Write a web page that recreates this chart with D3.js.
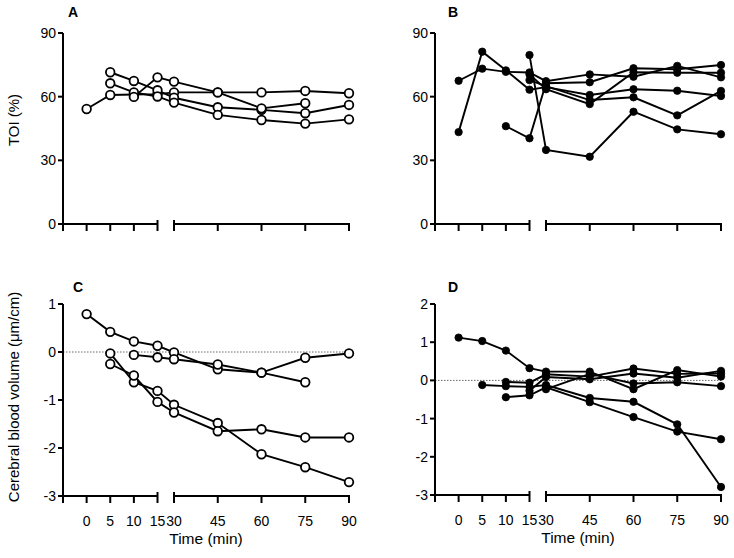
<!DOCTYPE html>
<html><head><meta charset="utf-8">
<script src="https://cdn.jsdelivr.net/npm/d3@7"></script>
<style>body{margin:0;background:#fff}svg{font-family:"Liberation Sans",Arial,sans-serif}</style>
</head><body><svg id="c" width="734" height="558"></svg>
<script>
const times = [0,5,10,15,30,45,60,75,90];
const xTickLabels = ["0","5","10","15","30","45","60","75","90"];
const topTicks = [0,30,60,90];
const cTicks = [-3,-2,-1,0,1];
const dTicks = [-3,-2,-1,0,1,2];

const seriesA = [
  [54.2,60.8,61.0,61.2,62.0,62.0,62.0,62.7,61.6],
  [null,71.5,67.4,63.0,59.5,55.0,53.8,52.2,56.1],
  [null,66.3,62.0,60.1,57.2,51.4,49.0,47.3,49.3],
  [null,null,59.9,69.1,67.1,62.0,54.5,56.9,null]
];
const seriesB = [
  [43.3,81.2,72.4,63.3,64.5,60.8,63.5,62.8,60.3],
  [67.5,73.2,71.7,71.4,67.3,70.5,69.4,74.5,69.1],
  [null,null,46.1,40.4,66.3,66.8,73.4,72.9,74.9],
  [null,null,null,79.6,34.9,31.7,52.9,44.6,42.3],
  [null,null,null,70.5,63.5,56.5,71.5,71.3,71.3],
  [null,null,null,67.8,65.0,58.4,59.7,51.2,62.7]
];
const seriesC = [
  [0.79,0.42,0.22,0.13,-0.01,-0.36,-0.43,-0.63,null],
  [null,null,-0.06,-0.11,-0.15,-0.26,-0.43,-0.12,-0.03],
  [null,-0.03,-0.63,-0.81,-1.10,-1.48,-2.13,-2.40,-2.71],
  [null,-0.25,-0.49,-1.04,-1.26,-1.65,-1.61,-1.78,-1.78]
];
const seriesD = [
  [1.12,1.03,0.78,0.32,0.23,0.23,-0.23,0.27,0.10],
  [null,-0.12,-0.15,-0.17,-0.12,-0.46,-0.56,-1.15,-2.79],
  [null,null,-0.04,-0.06,0.16,0.10,0.31,0.17,0.18],
  [null,null,-0.44,-0.39,-0.18,-0.57,-0.96,-1.34,-1.54],
  [null,null,null,-0.27,0.09,0.03,0.18,0.07,0.25],
  [null,null,null,null,-0.23,0.17,-0.08,-0.05,-0.15]
];

const svg = d3.select("#c");

function panel(o){
  const g = svg.append("g");
  const x = d3.scaleLinear().domain([-5,15,30,90]).range([o.x0, o.x0+94.5, o.x0+111, o.x0+286]);
  const y = d3.scaleLinear().domain(o.ydom).range([o.yb, o.yt]);
  const stroke = "#000";
  if (o.zero) {
    g.append("line").attr("x1", o.x0).attr("x2", x(90)).attr("y1", y(0)).attr("y2", y(0))
      .attr("stroke","#666").attr("stroke-width",1).attr("stroke-dasharray","1.5,1.5");
  }
  g.append("line").attr("x1",o.x0).attr("x2",o.x0).attr("y1",o.yt).attr("y2",o.yb+7).attr("stroke",stroke).attr("stroke-width",2);
  o.yticks.forEach(t=>{
    g.append("line").attr("x1",o.x0-5).attr("x2",o.x0).attr("y1",y(t)).attr("y2",y(t)).attr("stroke",stroke).attr("stroke-width",2);
    g.append("text").attr("x",o.x0-7).attr("y",y(t)).attr("dy","0.36em").attr("text-anchor","end")
      .attr("font-size",14).text(t);
  });
  g.append("line").attr("x1",o.x0-1).attr("x2",x(15)).attr("y1",o.yb).attr("y2",o.yb).attr("stroke",stroke).attr("stroke-width",2);
  g.append("line").attr("x1",x(30)).attr("x2",x(90)+1).attr("y1",o.yb).attr("y2",o.yb).attr("stroke",stroke).attr("stroke-width",2);
  times.forEach((t,i)=>{
    const brk = (t===15||t===30);
    g.append("line").attr("x1",x(t)).attr("x2",x(t)).attr("y1",brk?o.yb-4:o.yb).attr("y2",o.yb+7).attr("stroke",stroke).attr("stroke-width",2);
    if (o.labels) {
      g.append("text").attr("x",x(t)).attr("y",o.yb+30).attr("text-anchor","middle").attr("font-size",14).text(xTickLabels[i]);
    }
  });
  if (o.labels) {
    g.append("text").attr("x",(o.x0+x(90))/2).attr("y",o.yb+48).attr("text-anchor","middle").attr("font-size",15.5).text("Time (min)");
  }
  g.append("text").attr("x",o.lx).attr("y",o.ly).attr("font-size",14).attr("font-weight","bold").text(o.letter);
  const line = d3.line().defined(d=>d.v!=null).x(d=>x(d.t)).y(d=>y(d.v));
  o.series.forEach(s=>{
    const pts = s.map((v,i)=>({t:times[i],v:v}));
    g.append("path").attr("d",line(pts)).attr("fill","none").attr("stroke",stroke).attr("stroke-width",1.9);
  });
  o.series.forEach(s=>{
    const pts = s.map((v,i)=>({t:times[i],v:v})).filter(d=>d.v!=null);
    g.selectAll(null).data(pts).enter().append("circle")
      .attr("cx",d=>x(d.t)).attr("cy",d=>y(d.v))
      .attr("r",o.open?4.3:3.7)
      .attr("fill",o.open?"#fff":"#000")
      .attr("stroke","#000").attr("stroke-width",o.open?1.8:0.8);
  });
}

panel({letter:"A",lx:68,ly:17,x0:63,yt:33,yb:224,ydom:[0,90],yticks:topTicks,series:seriesA,open:true,labels:false,zero:false});
panel({letter:"B",lx:448,ly:17,x0:435,yt:33,yb:224,ydom:[0,90],yticks:topTicks,series:seriesB,open:false,labels:false,zero:false});
panel({letter:"C",lx:73,ly:292,x0:63,yt:304,yb:496,ydom:[-3,1],yticks:cTicks,series:seriesC,open:true,labels:true,zero:true});
panel({letter:"D",lx:448,ly:292,x0:435,yt:304,yb:495,ydom:[-3,2],yticks:dTicks,series:seriesD,open:false,labels:true,zero:true});

svg.append("text").attr("transform","translate(19,120) rotate(-90)").attr("text-anchor","middle").attr("font-size",15).text("TOI (%)");
svg.append("text").attr("transform","translate(19,397) rotate(-90)").attr("text-anchor","middle").attr("font-size",15).text("Cerebral blood volume (\u03bcm/cm)");
</script></body></html>
